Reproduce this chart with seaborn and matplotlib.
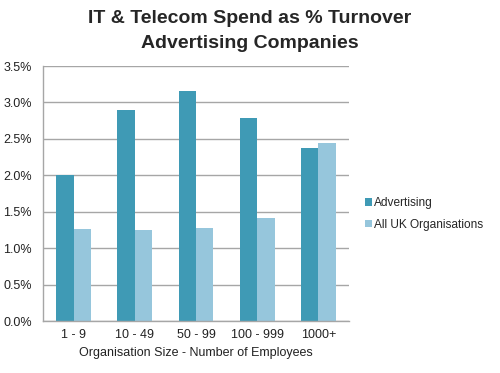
import matplotlib
matplotlib.use("Agg")
import matplotlib.pyplot as plt
import seaborn as sns
import pandas as pd
from matplotlib.ticker import FuncFormatter

categories = ["1 - 9", "10 - 49", "50 - 99", "100 - 999", "1000+"]
advertising = [2.01, 2.89, 3.16, 2.79, 2.37]
all_uk = [1.26, 1.25, 1.28, 1.42, 2.44]
series_names = ["Advertising", "All UK Organisations"]
colors = ["#3F9AB5", "#96C6DC"]

df = pd.DataFrame({
    "size": categories * 2,
    "value": advertising + all_uk,
    "series": [series_names[0]] * len(categories) + [series_names[1]] * len(categories),
})

sns.set_theme(style="white")
plt.rcParams["font.family"] = ["Liberation Sans", "DejaVu Sans"]

fig = plt.figure(figsize=(5, 3.73), dpi=100)
ax = fig.add_axes([0.086, 0.139, 0.612, 0.684])

sns.barplot(data=df, x="size", y="value", hue="series", palette=colors,
            width=0.57, ax=ax, saturation=1, edgecolor="none")

ax.set_ylim(0, 3.5)
ax.set_yticks([0, 0.5, 1.0, 1.5, 2.0, 2.5, 3.0, 3.5])
ax.yaxis.set_major_formatter(FuncFormatter(lambda v, p: f"{v:.1f}%"))
ax.grid(axis="y", color="#A6A6A6", linewidth=1)
ax.set_axisbelow(True)
for s in ["top", "right"]:
    ax.spines[s].set_visible(False)
for s in ["left", "bottom"]:
    ax.spines[s].set_color("#A6A6A6")
    ax.spines[s].set_linewidth(1)
ax.tick_params(axis="both", labelsize=9, length=0, labelcolor="#222222")
ax.tick_params(axis="y", pad=8)
ax.tick_params(axis="x", pad=6)
ax.set_xlabel("Organisation Size - Number of Employees", fontsize=9, color="#222222", labelpad=4)
ax.set_ylabel("")

fig.suptitle("IT & Telecom Spend as % Turnover\nAdvertising Companies", fontsize=14,
             fontweight="bold", y=0.972, x=0.5, linespacing=1.6)

ax.legend(loc="center left", bbox_to_anchor=(1.02, 0.42), frameon=False, fontsize=8.6,
          handlelength=0.6, handleheight=0.6, handletextpad=0.2, labelspacing=0.8,
          borderaxespad=0.4)

fig.savefig("out.png", dpi=100)
